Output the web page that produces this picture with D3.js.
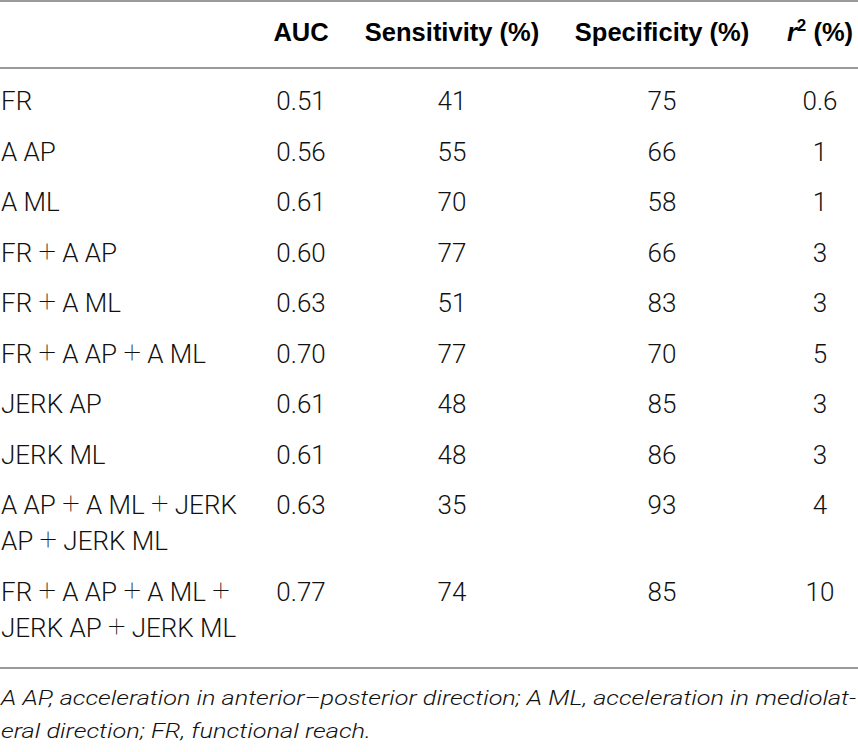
<!DOCTYPE html>
<html>
<head>
<meta charset="utf-8">
<script src="https://cdn.jsdelivr.net/npm/d3@7"></script>
<style>
	body { margin: 0; background: #fff; }
	.head { font-family: "Liberation Sans", Arial, sans-serif; font-weight: bold; font-size: 25.5px; fill: #000; }
	.cell { font-family: Roboto, "Liberation Sans", sans-serif; font-weight: 300; font-size: 26px; fill: #111; }
	.plus { font-size: 31px; font-weight: 100; }
	.note { font-family: Roboto, "Liberation Sans", sans-serif; font-weight: 300; font-style: italic; font-size: 20.5px; fill: #111; }
	.rule { stroke: #9a9a9a; stroke-width: 2; }
</style>
</head>
<body>
<svg id="table"></svg>
<script>
// Table content ("+" is drawn a little larger, like the source typeface)
const rowLabels = [
	["FR"],
	["A AP"],
	["A ML"],
	["FR + A AP"],
	["FR + A ML"],
	["FR + A AP + A ML"],
	["JERK AP"],
	["JERK ML"],
	["A AP + A ML + JERK", "AP + JERK ML"],
	["FR + A AP + A ML +", "JERK AP + JERK ML"]
];
const auc = [0.51, 0.56, 0.61, 0.60, 0.63, 0.70, 0.61, 0.61, 0.63, 0.77];
const sensitivity = [41, 55, 70, 77, 51, 77, 48, 48, 35, 74];
const specificity = [75, 66, 58, 66, 83, 70, 85, 86, 93, 85];
const rSquared = [0.6, 1, 1, 3, 3, 5, 3, 3, 4, 10];
const columns = ["label", "auc", "sens", "spec", "r2"];
const headers = ["", "AUC", "Sensitivity (%)", "Specificity (%)", "r2"];
const footnote = [
	"A AP, acceleration in anterior\u2013posterior direction; A ML, acceleration in mediolat-",
	"eral direction; FR, functional reach."
];

class TableChart{

	constructor(){
		const svgWidth = 858;
		const svgHeight = 752;
		this.svg = d3.select('#table')
			.attr("width", svgWidth)
			.attr("height", svgHeight);
		this.width = svgWidth;

		// column centres (label column is left aligned)
		this.x = d3.scaleOrdinal().domain(columns).range([1, 301, 452, 662, 820]);
		this.rowStep = 50.5;
		this.lineStep = 36;
		this.firstBaseline = 110;
	}

	update(){
		const rows = rowLabels.map((lines, i) => ({
			lines: lines,
			values: [d3.format(".2f")(auc[i]), sensitivity[i], specificity[i], rSquared[i]]
		}));

		// baseline of each row, two-line rows push the following ones down
		let offset = this.firstBaseline;
		rows.forEach(r => {
			r.y = offset;
			offset += this.rowStep + (r.lines.length - 1) * this.lineStep;
		});

		// Rules
		this.svg.selectAll(".rule")
			.data([1, 68, 668])
			.enter().append("line")
			.attr("class", "rule")
			.attr("x1", 0)
			.attr("x2", this.width)
			.attr("y1", d => d)
			.attr("y2", d => d);

		// Header
		const head = this.svg.append("g").attr("class", "head");
		head.selectAll("text")
			.data(headers.slice(1, 4))
			.enter().append("text")
			.attr("x", (d, i) => this.x(columns[i + 1]))
			.attr("y", 41)
			.attr("text-anchor", "middle")
			.text(d => d);

		const r2Head = head.append("text")
			.attr("x", this.x("r2"))
			.attr("y", 41)
			.attr("text-anchor", "middle");
		r2Head.append("tspan").style("font-style", "italic").text("r");
		r2Head.append("tspan").attr("dy", -10).style("font-size", "17px").text("2");
		r2Head.append("tspan").attr("dy", 10).text(" (%)");

		// Body rows
		const g = this.svg.append("g").attr("class", "cell");
		const rowG = g.selectAll(".row")
			.data(rows)
			.enter().append("g")
			.attr("class", "row");

		const labelText = rowG.selectAll(".label")
			.data(d => d.lines.map((l, k) => ({text: l, y: d.y + k * this.lineStep})))
			.enter().append("text")
			.attr("class", "label")
			.attr("x", this.x("label"))
			.attr("y", d => d.y);

		// split on "+" so the plus signs can be sized separately
		labelText.selectAll("tspan")
			.data(d => d.text.split(/( \+ ?)/).filter(s => s.length))
			.enter().append("tspan")
			.attr("class", s => s.includes("+") ? "plus" : null)
			.text(s => s.includes("+") ? (s.endsWith(" ") ? "\u2009+\u2009" : "\u2009+") : s);

		rowG.selectAll(".value")
			.data(d => d.values.map((v, k) => ({text: v, col: columns[k + 1], y: d.y})))
			.enter().append("text")
			.attr("class", "value")
			.attr("x", d => this.x(d.col))
			.attr("y", d => d.y)
			.attr("text-anchor", "middle")
			.text(d => d.text);

		// Footnote
		this.svg.append("g")
			.attr("class", "note")
			.selectAll("text")
			.data(footnote)
			.enter().append("text")
			.attr("x", 1)
			.attr("y", (d, i) => 705 + i * 33)
			.attr("textLength", (d, i) => i === 0 ? 855 : 370)
			.attr("lengthAdjust", "spacingAndGlyphs")
			.text(d => d);
	}
}

const table = new TableChart();
table.update();
</script>
</body>
</html>
